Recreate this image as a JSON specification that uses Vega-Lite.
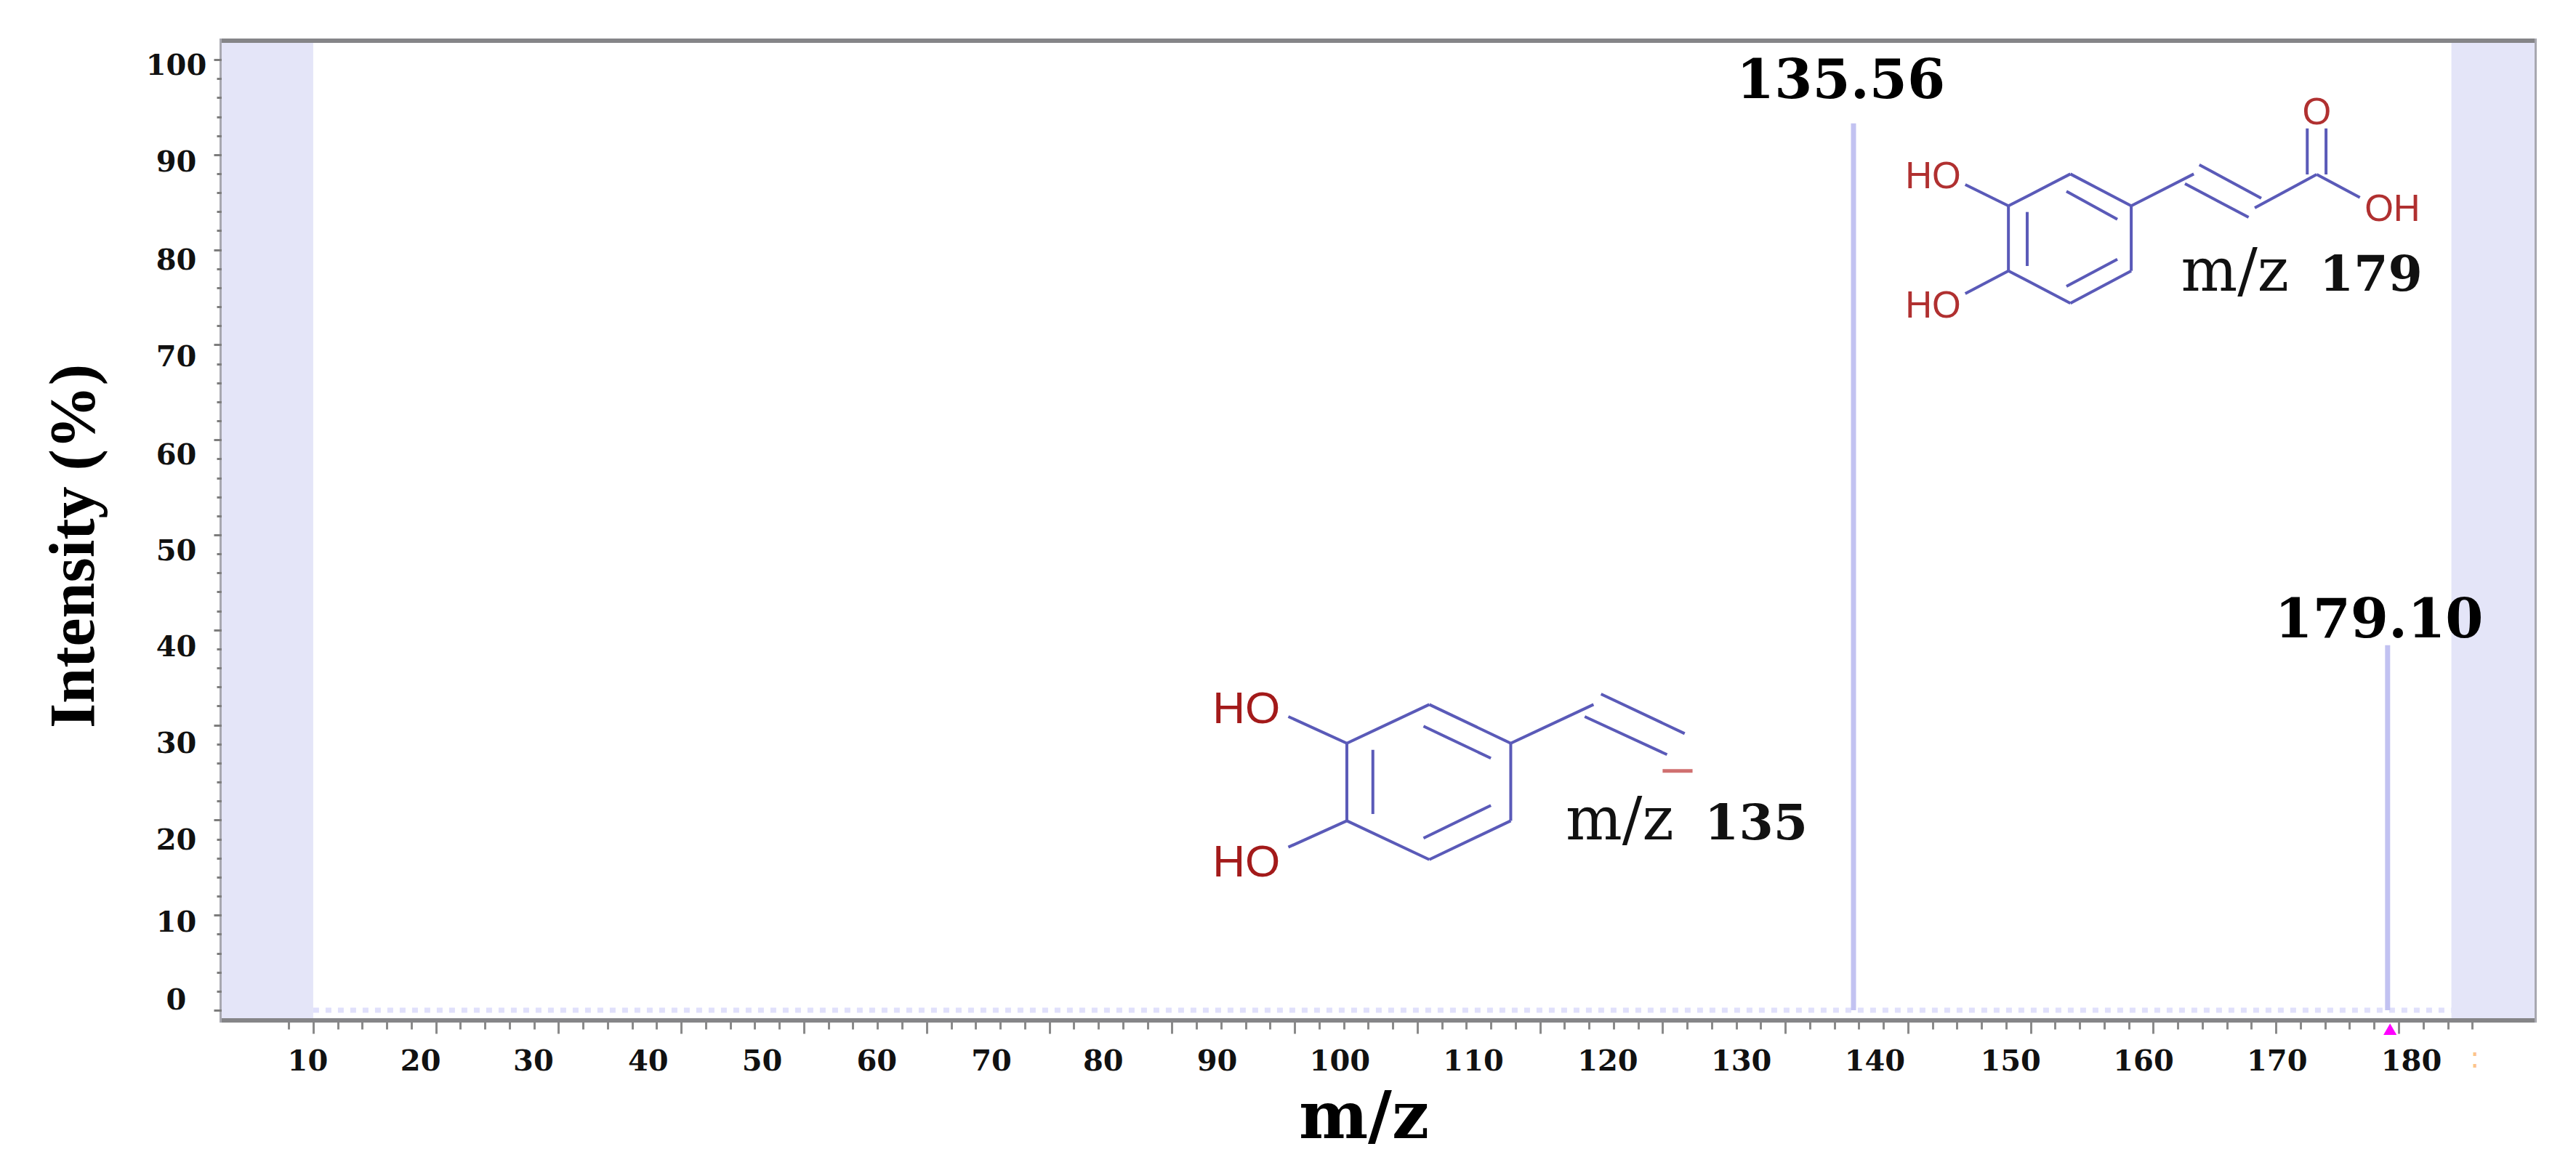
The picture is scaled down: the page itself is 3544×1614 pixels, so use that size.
{
"$schema":"https://vega.github.io/schema/vega-lite/v6.json",
"width":3182,"height":1348,
"autosize":{"type":"none"},
"padding":{"left":305,"top":56,"right":57,"bottom":210},
"background":"white",
"config":{"view":{"stroke":"#a8a8b0","strokeWidth":6}},
"encoding":{
 "x":{"field":"mz","type":"quantitative","scale":{"domain":[2.54,191.08],"nice":false,"zero":false},
  "axis":{"title":"m/z","values":[8,10,12,14,16,18,20,22,24,26,28,30,32,34,36,38,40,42,44,46,48,50,52,54,56,58,60,62,64,66,68,70,72,74,76,78,80,82,84,86,88,90,92,94,96,98,100,102,104,106,108,110,112,114,116,118,120,122,124,126,128,130,132,134,136,138,140,142,144,146,148,150,152,154,156,158,160,162,164,166,168,170,172,174,176,178,180,182,184,186],
   "labelExpr":"datum.value%10===0?datum.label:''","labelOverlap":false,"labelBound":false,"labelFlush":false,"grid":false,"domain":false,
   "tickColor":"#8a8a8a","tickWidth":3,
   "tickSize":{"condition":{"test":"datum.value%10===0","value":18},"value":12},
   "labelFont":"DejaVu Serif","labelFontWeight":"bold","labelFontSize":40,"labelColor":"#111111","labelBaseline":"alphabetic","labelAlign":"center","labelPadding":50,
   "labelOffset":{"expr":"[-8,-21.5,-35,-46,-58,-69,-80,-95,-107,-107,-92,-76,-61,-46,-28,-14,1,17][datum.value/10-1]"},
   "titleFont":"DejaVu Serif","titleFontWeight":"bold","titleFontSize":90,"titleColor":"#000000","titleX":1571,"titleY":161,"titleBaseline":"alphabetic"}},
 "y":{"field":"i","type":"quantitative","scale":{"domain":[-1.07,101.99],"nice":false,"zero":false},
  "axis":{"title":"Intensity (%)","values":[0,2,4,6,8,10,12,14,16,18,20,22,24,26,28,30,32,34,36,38,40,42,44,46,48,50,52,54,56,58,60,62,64,66,68,70,72,74,76,78,80,82,84,86,88,90,92,94,96,98,100],
   "labelExpr":"datum.value%10===0?datum.label:''","labelOverlap":false,"labelBound":false,"labelFlush":false,"grid":false,"domain":false,
   "tickColor":"#7d7d7d","tickWidth":3,
   "tickSize":{"condition":{"test":"datum.value%10===0","value":11},"value":7},
   "labelFont":"DejaVu Serif","labelFontWeight":"bold","labelFontSize":40,"labelColor":"#111111","labelBaseline":"middle","labelAlign":"center","labelPadding":52,
   "labelOffset":{"expr":"[-14,10,28,26,24,22,21,17,14.5,11,8.5][datum.value/10]"},
   "titleFont":"Liberation Serif","titleFontWeight":"bold","titleFontSize":88,"titleColor":"#000000","titleX":-177,"titleY":695,"titleBaseline":"alphabetic"}}
},
"layer":[
 {"data":{"values":[{"mz":2.54,"mz2":10,"i":-1.07,"i2":101.99},{"mz":184.3,"mz2":191.08,"i":-1.07,"i2":101.99}]},
  "mark":{"type":"rect","fill":"#e4e5f8","stroke":null},
  "encoding":{"x2":{"field":"mz2"},"y2":{"field":"i2"}}},
 {"data":{"values":[{"mz":2.54,"mz2":191.08,"i":-1.07},{"mz":2.54,"mz2":191.08,"i":101.99}]},
  "mark":{"type":"rule","stroke":"#858588","strokeWidth":6},
  "encoding":{"x2":{"field":"mz2"}}},
 {"data":{"values":[{"mz":10,"mz2":184.3,"i":0}]},
  "mark":{"type":"rule","stroke":"#e0e0fb","strokeWidth":7,"strokeDash":[8,9]},
  "encoding":{"x2":{"field":"mz2"}}},
 {"data":{"values":[{"mz":135.56,"i":93.3},{"mz":179.1,"i":38.4}]},
  "mark":{"type":"rule","stroke":"#c2c2f1","strokeWidth":7},
  "encoding":{"y2":{"datum":0}}},
 {"data":{"values":[{"mz":179.3,"i":-2.0}]},
  "mark":{"type":"point","shape":"triangle-up","filled":true,"fill":"#ff00ff","opacity":1,"size":330,"clip":false}},
 {"data":{"values":[
  {"mz":100.98,"i":32.16,"mz2":107.62,"i2":28.08},{"mz":107.62,"i":28.08,"mz2":107.62,"i2":19.93},{"mz":107.62,"i":19.93,"mz2":100.98,"i2":15.85},{"mz":100.98,"i":15.85,"mz2":94.26,"i2":19.93},{"mz":94.26,"i":19.93,"mz2":94.26,"i2":28.08},{"mz":94.26,"i":28.08,"mz2":100.98,"i2":32.16},
  {"mz":100.51,"i":29.87,"mz2":106.0,"i2":26.51},{"mz":96.38,"i":27.39,"mz2":96.38,"i2":20.64},{"mz":100.51,"i":18.1,"mz2":106.0,"i2":21.54},
  {"mz":89.49,"i":30.89,"mz2":94.26,"i2":28.08},{"mz":89.49,"i":17.15,"mz2":94.26,"i2":19.93},{"mz":107.62,"i":28.08,"mz2":114.37,"i2":32.16},{"mz":114.98,"i":33.26,"mz2":121.8,"i2":29.1},{"mz":113.65,"i":30.89,"mz2":120.36,"i2":26.89},
  {"mz":153.24,"i":87.97,"mz2":158.2,"i2":84.61},{"mz":158.2,"i":84.61,"mz2":158.2,"i2":77.78},{"mz":158.2,"i":77.78,"mz2":153.24,"i2":74.37},{"mz":153.24,"i":74.37,"mz2":148.19,"i2":77.78},{"mz":148.19,"i":77.78,"mz2":148.19,"i2":84.61},{"mz":148.19,"i":84.61,"mz2":153.24,"i2":87.97},
  {"mz":152.92,"i":86.14,"mz2":157.07,"i2":83.2},{"mz":149.72,"i":83.97,"mz2":149.72,"i2":78.29},{"mz":152.92,"i":76.15,"mz2":157.07,"i2":79.0},
  {"mz":144.67,"i":86.85,"mz2":148.19,"i2":84.61},{"mz":144.67,"i":75.38,"mz2":148.19,"i2":77.78},{"mz":158.2,"i":84.61,"mz2":163.3,"i2":87.97},{"mz":163.75,"i":88.94,"mz2":168.8,"i2":85.42},{"mz":162.58,"i":86.95,"mz2":167.77,"i2":83.41},{"mz":168.27,"i":84.4,"mz2":173.32,"i2":87.92},{"mz":172.55,"i":87.92,"mz2":172.55,"i2":92.76},{"mz":174.08,"i":87.92,"mz2":174.08,"i2":92.76},{"mz":173.32,"i":87.92,"mz2":176.84,"i2":85.5}
  ]},
  "mark":{"type":"rule","stroke":"#5a5ab8","strokeWidth":4},
  "encoding":{"x2":{"field":"mz2"},"y2":{"field":"i2"}}},
 {"data":{"values":[{"mz":120.0,"mz2":122.44,"i":25.18}]},
  "mark":{"type":"rule","stroke":"#d07070","strokeWidth":5},
  "encoding":{"x2":{"field":"mz2"}}},
 {"data":{"values":[{"mz":86.07,"i":31.65,"t":"HO"},{"mz":86.07,"i":15.5,"t":"HO"}]},
  "mark":{"type":"text","font":"Liberation Sans","fontSize":62,"fill":"#a31a1a","align":"center","baseline":"middle"},
  "encoding":{"text":{"field":"t"}}},
 {"data":{"values":[{"mz":142.05,"i":87.59,"t":"HO"},{"mz":142.05,"i":74.03,"t":"HO"},{"mz":173.32,"i":94.34,"t":"O"},{"mz":179.49,"i":84.15,"t":"OH"}]},
  "mark":{"type":"text","font":"Liberation Sans","fontSize":51,"fill":"#b03030","align":"center","baseline":"middle"},
  "encoding":{"text":{"field":"t"}}},
 {"data":{"values":[{"mz":112.1,"i":17.97,"t":"m/z"},{"mz":162.25,"i":75.69,"t":"m/z"}]},
  "mark":{"type":"text","font":"DejaVu Serif","fontSize":82,"fill":"#111111","align":"left","baseline":"alphabetic"},
  "encoding":{"text":{"field":"t"}}},
 {"data":{"values":[{"mz":123.42,"i":17.97,"t":"135"},{"mz":173.54,"i":75.69,"t":"179"}]},
  "mark":{"type":"text","font":"DejaVu Serif","fontWeight":"bold","fontSize":68,"fill":"#111111","align":"left","baseline":"alphabetic"},
  "encoding":{"text":{"field":"t"}}},
 {"data":{"values":[{"mz":134.53,"i":95.95,"t":"135.56"},{"mz":178.4,"i":39.2,"t":"179.10"}]},
  "mark":{"type":"text","font":"DejaVu Serif","fontWeight":"bold","fontSize":75,"fill":"#000000","align":"center","baseline":"alphabetic"},
  "encoding":{"text":{"field":"t"}}},
 {"data":{"values":[{"mz":186.2,"i":-5.1,"t":":"}]},
  "mark":{"type":"text","font":"DejaVu Sans","fontSize":40,"fill":"#fcc38c","align":"center","baseline":"middle"},
  "encoding":{"text":{"field":"t"}}}
]
}
